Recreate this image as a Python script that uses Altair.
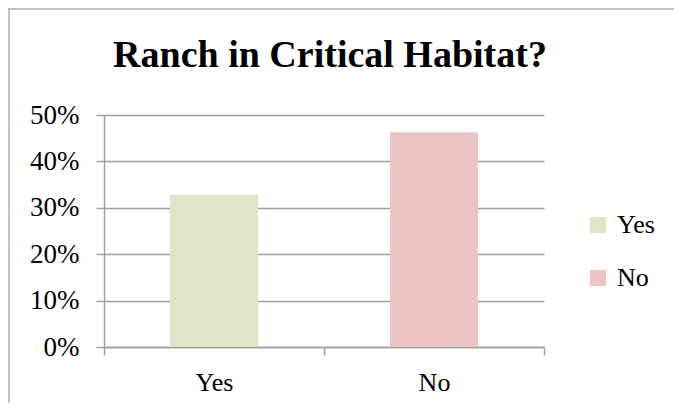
import altair as alt
import pandas as pd

categories = ["Yes", "No"]
shares = [0.328, 0.463]
colors = ["#DDE6C8", "#EBC4C3"]
y_ticks = [0, 0.1, 0.2, 0.3, 0.4, 0.5]

df = pd.DataFrame({"answer": categories, "share": shares})

FONT = "Liberation Serif"
GRID = "#A0A0A0"

bars = alt.Chart(df).mark_bar(width={"band": 0.4}).encode(
    x=alt.X("answer:N", sort=categories, title=None,
            scale=alt.Scale(paddingInner=0, paddingOuter=0),
            axis=alt.Axis(labelAngle=0, tickBand="extent", tickSize=8,
                          domainColor=GRID, tickColor=GRID, domainWidth=1.5, tickWidth=1.5,
                          labelFont=FONT, labelFontSize=26, labelColor="black",
                          labelPadding=14)),
    y=alt.Y("share:Q", title=None,
            scale=alt.Scale(domain=[0, 0.5], nice=False),
            axis=alt.Axis(values=y_ticks, format=".0%", tickSize=8,
                          domainColor=GRID, tickColor=GRID, domainWidth=1.5, tickWidth=1.5,
                          grid=True, gridColor=GRID, gridWidth=1.5,
                          labelFont=FONT, labelFontSize=27, labelColor="black",
                          labelPadding=17)),
    color=alt.Color("answer:N", sort=categories,
                    scale=alt.Scale(domain=categories, range=colors),
                    legend=alt.Legend(title=None, orient="none", legendX=481, legendY=97,
                                      symbolType="square", symbolSize=260, symbolStrokeWidth=0,
                                      labelFont=FONT, labelFontSize=26, labelColor="black",
                                      rowPadding=27, padding=0, labelOffset=6)),
)

frame_data = alt.Data(values=[{"k": 1}])
left_frame = alt.Chart(frame_data).mark_rule(color="#B0B0B0", strokeWidth=1.5).encode(
    x=alt.value(-95), y=alt.value(-107), y2=alt.value(300))
top_frame = alt.Chart(frame_data).mark_rule(color="#B0B0B0", strokeWidth=1.5).encode(
    x=alt.value(-96), x2=alt.value(580), y=alt.value(-106))

chart = alt.layer(bars, left_frame, top_frame).properties(
    width=440, height=232,
    padding={"left": 96, "top": 107, "right": 130, "bottom": 56},
    autosize=alt.AutoSizeParams(type="none"),
    title=alt.TitleParams("Ranch in Critical Habitat?", font=FONT, fontSize=38,
                          fontWeight="bold", anchor="middle", color="black",
                          baseline="bottom", offset=-106, dx=6),
).configure_view(stroke=None)

chart.save("out.html", embed_options={"renderer": "svg", "actions": False})
